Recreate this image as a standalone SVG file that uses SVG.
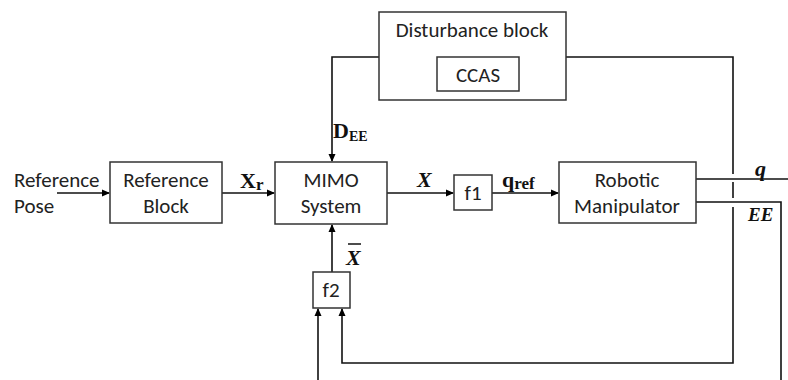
<svg xmlns="http://www.w3.org/2000/svg" width="788" height="380" viewBox="0 0 788 380">
<defs>
<marker id="ah" markerWidth="8" markerHeight="8" refX="7" refY="4" orient="auto" markerUnits="userSpaceOnUse">
<path d="M0,0.5 L8,4 L0,7.5 Z" fill="#000"/>
</marker>
</defs>
<style>
.box{fill:#fff;stroke:#333;stroke-width:1.5}
.t{font-family:Calibri,"Liberation Sans","DejaVu Sans",sans-serif;font-size:21px;fill:#222;text-anchor:middle}
.m{font-family:"Liberation Serif","DejaVu Serif",serif;font-weight:bold;fill:#111}
.c{fill:none;stroke:#111;stroke-width:1.6}
</style>
<rect width="788" height="380" fill="#fff"/>
<g id="connectors">
<path class="c" d="M57,193 H109" marker-end="url(#ah)"/>
<path class="c" d="M222,193 H274" marker-end="url(#ah)"/>
<path class="c" d="M387,193 H453" marker-end="url(#ah)"/>
<path class="c" d="M492,193 H558" marker-end="url(#ah)"/>
<path class="c" d="M379,57 H332 V161" marker-end="url(#ah)"/>
<path class="c" d="M566,57 H733 V174"/>
<path class="c" d="M733,182 V198"/>
<path class="c" d="M733,207 V363 H342 V309" marker-end="url(#ah)"/>
<path class="c" d="M318,380 V309" marker-end="url(#ah)"/>
<path class="c" d="M332,272 V225" marker-end="url(#ah)"/>
<path class="c" d="M696,179 H788"/>
<path class="c" d="M696,202 H781 V380"/>
</g>
<g id="reference-pose">
<text class="t" x="14" y="187" style="text-anchor:start">Reference</text>
<text class="t" x="14" y="213" style="text-anchor:start">Pose</text>
</g>
<g id="reference-block">
<rect class="box" x="110" y="162" width="112" height="61"/>
<text class="t" x="166" y="187">Reference</text>
<text class="t" x="166" y="213">Block</text>
</g>
<g id="mimo">
<rect class="box" x="275" y="162" width="112" height="62"/>
<text class="t" x="331" y="187">MIMO</text>
<text class="t" x="331" y="213">System</text>
</g>
<g id="f1">
<rect class="box" x="454" y="175" width="38" height="35"/>
<text class="t" x="473" y="200">f1</text>
</g>
<g id="robot">
<rect class="box" x="559" y="162" width="137" height="61"/>
<text class="t" x="627" y="187">Robotic</text>
<text class="t" x="627" y="213">Manipulator</text>
</g>
<g id="disturbance">
<rect class="box" x="379" y="12" width="187" height="88"/>
<text class="t" x="472" y="37">Disturbance block</text>
</g>
<g id="ccas">
<rect class="box" x="437" y="57" width="82" height="34"/>
<text class="t" x="478" y="82">CCAS</text>
</g>
<g id="f2">
<rect class="box" x="313" y="272" width="37" height="36"/>
<text class="t" x="331" y="297">f2</text>
</g>
<g id="labels">
<text class="m" x="240" y="188" font-size="22">X<tspan font-size="17" dy="2">r</tspan></text>
<text class="m" x="333" y="138" font-size="22">D<tspan font-size="14" dy="3">EE</tspan></text>
<text class="m" x="417" y="187" font-size="22" font-style="italic">X</text>
<text class="m" x="502" y="187" font-size="22">q<tspan font-size="17" dy="2">ref</tspan></text>
<text class="m" x="346" y="265" font-size="22" font-style="italic">X</text>
<line x1="348" y1="244" x2="361" y2="244" stroke="#111" stroke-width="1.5"/>
<text class="m" x="755" y="176" font-size="22" font-style="italic">q</text>
<text class="m" x="748" y="221" font-size="19" font-style="italic">EE</text>
</g>
</svg>
